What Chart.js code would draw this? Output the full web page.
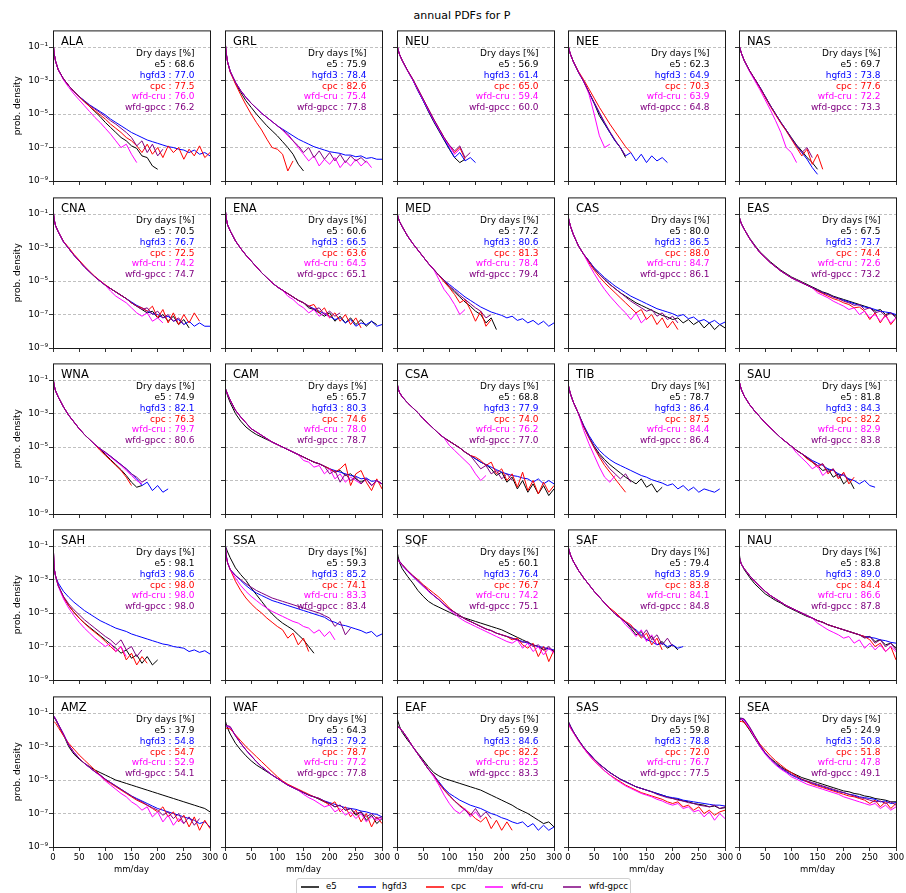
<!DOCTYPE html>
<html><head><meta charset="utf-8">
<script src="https://cdn.jsdelivr.net/npm/chart.js@4/dist/chart.umd.min.js"></script>
<style>
body{margin:0;background:#fff;width:906px;height:893px;position:relative;overflow:hidden;font-family:"DejaVu Sans",sans-serif;color:#000}
canvas{position:absolute;z-index:1}
#title{position:absolute;top:9px;left:462px;transform:translateX(-50%);font-size:11px;white-space:nowrap}
#legend{position:absolute;z-index:5;left:296px;top:878px;width:333px;height:22px;border:1px solid #d0d0d0;border-radius:3px;background:#fff;font-size:8.6px}
#legend svg{position:absolute;top:6px}
#legend .tx{position:absolute;top:2px;white-space:nowrap}
</style></head>
<body>
<div id="title">annual PDFs for P</div>
<div id="legend"></div>
<script>
// x positions (mm/day) of the sampled PDF values
const X = [0,2,5,10,20,30,40,50,60,70,80,90,100,110,120,130,140,150,160,170,180,190,200,210,220,230,240,250,260,270,280,290,300];
// values are log10(probability density)
const ALA_e5 = [-0.6,-1.35,-1.85,-2.35,-2.9,-3.3,-3.65,-3.95,-4.25,-4.55,-4.85,-5.15,-5.5,-5.8,-6.1,-6.4,-6.6,-6.9,-7.05,-7.5,-7.6,-8.1,-8.3];
const ALA_hgfd3 = [-0.6,-1.35,-1.85,-2.35,-2.9,-3.3,-3.65,-3.95,-4.2,-4.45,-4.65,-4.85,-5.05,-5.3,-5.5,-5.7,-5.9,-6.1,-6.25,-6.4,-6.55,-6.65,-6.75,-6.85,-6.95,-7.0,-7.1,-7.15,-7.3,-7.15,-7.4,-7.3,-7.5];
const ALA_cpc = [-0.6,-1.35,-1.85,-2.35,-2.9,-3.3,-3.65,-3.97,-4.27,-4.55,-4.8,-5.05,-5.3,-5.6,-5.85,-6.1,-6.4,-6.6,-6.9,-7.3,-6.8,-7.4,-7.0,-7.6,-6.9,-7.3,-7.0,-7.7,-7.1,-7.5,-6.9,-7.6,-7.3];
const ALA_wfdcru = [-0.6,-1.35,-1.85,-2.35,-2.95,-3.4,-3.8,-4.15,-4.5,-4.85,-5.2,-5.5,-5.85,-6.2,-6.6,-7.0,-6.8,-7.4,-7.9];
const ALA_wfdgpcc = [-0.6,-1.35,-1.85,-2.35,-2.9,-3.3,-3.65,-3.95,-4.22,-4.48,-4.7,-4.92,-5.15,-5.4,-5.6,-5.85,-6.1,-6.4,-6.9,-6.6,-7.3,-6.8,-7.5,-7.1];

const GRL_e5 = [-0.5,-1.3,-1.9,-2.45,-3.15,-3.7,-4.2,-4.6,-5.0,-5.35,-5.7,-6.0,-6.3,-6.65,-7.0,-7.4,-8.0,-8.4];
const GRL_hgfd3 = [-0.5,-1.3,-1.9,-2.45,-3.1,-3.6,-4.0,-4.35,-4.65,-4.95,-5.2,-5.45,-5.7,-5.9,-6.1,-6.3,-6.5,-6.65,-6.8,-6.95,-7.05,-7.15,-7.25,-7.3,-7.35,-7.45,-7.45,-7.55,-7.5,-7.65,-7.6,-7.7,-7.7];
const GRL_cpc = [-0.5,-1.3,-1.9,-2.5,-3.2,-3.85,-4.45,-5.0,-5.5,-5.95,-6.5,-7.0,-7.1,-7.4,-8.4,-7.8];
const GRL_wfdcru = [-0.5,-1.3,-1.9,-2.45,-3.1,-3.6,-4.0,-4.35,-4.65,-4.95,-5.2,-5.45,-5.7,-5.95,-6.3,-6.6,-7.0,-7.4,-7.8,-7.5,-8.1,-7.7,-8.0,-7.6,-8.2,-7.8,-8.1,-7.7,-8.1,-7.8,-8.2];
const GRL_wfdgpcc = [-0.5,-1.3,-1.9,-2.45,-3.1,-3.6,-4.0,-4.35,-4.65,-4.95,-5.2,-5.45,-5.7,-5.95,-6.2,-6.6,-6.9,-7.3,-7.0,-7.6,-7.2,-7.7,-7.3,-7.8,-7.4,-7.9,-7.5,-7.8,-7.6,-7.9];

const NEU_e5 = [-0.85,-1.15,-1.45,-1.8,-2.4,-2.95,-3.6,-4.2,-4.85,-5.45,-6.0,-6.55,-7.1,-7.6,-7.9,-7.7];
const NEU_hgfd3 = [-0.85,-1.15,-1.45,-1.8,-2.4,-2.95,-3.6,-4.2,-4.8,-5.4,-5.95,-6.5,-7.05,-7.6,-7.3,-7.8,-7.6,-7.9];
const NEU_cpc = [-0.85,-1.15,-1.45,-1.8,-2.38,-2.9,-3.5,-4.1,-4.7,-5.3,-5.85,-6.4,-6.9,-7.3,-7.0,-7.7];
const NEU_wfdcru = [-0.85,-1.15,-1.45,-1.8,-2.4,-2.95,-3.55,-4.15,-4.75,-5.35,-5.9,-6.45,-6.9,-7.4,-7.1];
const NEU_wfdgpcc = [-0.85,-1.15,-1.45,-1.8,-2.38,-2.9,-3.5,-4.1,-4.7,-5.3,-5.85,-6.4,-6.85,-7.2,-6.9,-7.6,-7.3];

const NEE_e5 = [-0.85,-1.15,-1.45,-1.85,-2.5,-3.05,-3.7,-4.35,-5.1,-5.6,-6.1,-6.6,-7.0,-7.6];
const NEE_hgfd3 = [-0.85,-1.15,-1.45,-1.85,-2.5,-3.05,-3.7,-4.35,-4.95,-5.55,-6.1,-6.6,-7.0,-7.5,-7.3,-7.8,-7.4,-7.9,-7.5,-7.8,-7.6,-7.9];
const NEE_cpc = [-0.85,-1.15,-1.45,-1.85,-2.45,-2.95,-3.5,-4.05,-4.6,-5.1,-5.6,-6.05,-6.5,-6.95,-7.3];
const NEE_wfdcru = [-0.85,-1.15,-1.45,-1.85,-2.5,-3.05,-3.8,-5.0,-6.3,-7.0,-6.8];
const NEE_wfdgpcc = [-0.85,-1.15,-1.45,-1.85,-2.5,-3.05,-3.7,-4.3,-4.9,-5.5,-6.05,-6.55,-7.0,-7.5];

const NAS_e5 = [-0.85,-1.1,-1.4,-1.8,-2.4,-2.9,-3.4,-3.95,-4.5,-5.0,-5.5,-5.95,-6.4,-6.85,-7.2,-7.6,-7.9,-8.3];
const NAS_hgfd3 = [-0.85,-1.1,-1.4,-1.8,-2.4,-2.9,-3.4,-3.95,-4.5,-5.0,-5.5,-5.95,-6.45,-6.9,-7.3,-7.7,-8.2,-8.6];
const NAS_cpc = [-0.85,-1.1,-1.4,-1.8,-2.4,-2.9,-3.45,-4.0,-4.55,-5.05,-5.55,-6.0,-6.5,-7.0,-7.5,-7.1,-8.0,-7.4,-8.3];
const NAS_wfdcru = [-0.85,-1.1,-1.4,-1.8,-2.45,-3.0,-3.55,-4.15,-4.75,-5.4,-6.1,-7.0,-7.3,-7.9];
const NAS_wfdgpcc = [-0.85,-1.1,-1.4,-1.8,-2.4,-2.9,-3.4,-3.95,-4.5,-5.0,-5.5,-5.95,-6.45,-6.9,-7.3,-7.0,-7.6];

const CNA_e5 = [-0.6,-1.3,-1.7,-2.05,-2.65,-3.05,-3.45,-3.8,-4.15,-4.45,-4.75,-5.0,-5.25,-5.45,-5.65,-5.85,-6.05,-6.3,-6.5,-6.7,-6.9,-6.8,-7.2,-7.0,-7.4,-7.1,-7.6,-7.3,-7.8];
const CNA_hgfd3 = [-0.6,-1.3,-1.7,-2.05,-2.65,-3.05,-3.45,-3.8,-4.15,-4.45,-4.75,-5.0,-5.25,-5.45,-5.65,-5.85,-6.05,-6.25,-6.45,-6.6,-6.8,-6.95,-7.0,-7.2,-7.1,-7.4,-7.3,-7.6,-7.4,-7.7,-7.5,-7.7,-7.7];
const CNA_cpc = [-0.6,-1.3,-1.7,-2.05,-2.62,-3.0,-3.4,-3.75,-4.1,-4.42,-4.72,-4.98,-5.22,-5.45,-5.65,-5.85,-6.05,-6.3,-6.5,-6.6,-6.8,-6.5,-7.2,-6.7,-7.5,-6.9,-7.6,-7.0,-7.5,-6.9,-7.4];
const CNA_wfdcru = [-0.6,-1.3,-1.7,-2.05,-2.65,-3.05,-3.45,-3.8,-4.15,-4.45,-4.75,-5.0,-5.25,-5.6,-5.9,-6.1,-6.3,-6.6,-6.9,-7.1,-6.9,-7.4,-7.2,-7.5];
const CNA_wfdgpcc = [-0.6,-1.3,-1.7,-2.05,-2.65,-3.05,-3.45,-3.8,-4.15,-4.45,-4.75,-5.0,-5.25,-5.45,-5.65,-5.85,-6.05,-6.3,-6.5,-6.7,-6.6,-7.0,-6.8,-7.2,-7.0,-7.4,-7.2,-7.6];

const ENA_e5 = [-0.5,-1.2,-1.65,-2.0,-2.6,-3.05,-3.45,-3.8,-4.15,-4.5,-4.8,-5.1,-5.35,-5.55,-5.75,-5.95,-6.15,-6.3,-6.6,-6.7,-6.9,-7.1,-6.9,-7.4,-7.1,-7.5,-7.2,-7.6,-7.3,-7.7,-7.4,-7.6];
const ENA_hgfd3 = [-0.5,-1.2,-1.65,-2.0,-2.6,-3.05,-3.45,-3.8,-4.15,-4.5,-4.8,-5.1,-5.35,-5.55,-5.75,-5.95,-6.15,-6.3,-6.5,-6.65,-6.8,-6.95,-7.1,-7.3,-7.2,-7.5,-7.3,-7.7,-7.5,-7.6,-7.4,-7.7,-7.6];
const ENA_cpc = [-0.5,-1.2,-1.65,-2.0,-2.6,-3.05,-3.45,-3.8,-4.15,-4.5,-4.8,-5.1,-5.35,-5.55,-5.75,-5.95,-6.15,-6.3,-6.5,-6.4,-6.9,-6.6,-7.2,-6.9,-7.4,-7.0,-7.6,-7.2,-7.8];
const ENA_wfdcru = [-0.5,-1.2,-1.65,-2.0,-2.6,-3.05,-3.45,-3.8,-4.15,-4.5,-4.8,-5.1,-5.35,-5.55,-5.9,-6.1,-6.4,-6.6,-6.9,-6.7,-7.1,-6.9,-7.2];
const ENA_wfdgpcc = [-0.5,-1.2,-1.65,-2.0,-2.6,-3.05,-3.45,-3.8,-4.15,-4.5,-4.8,-5.1,-5.35,-5.55,-5.75,-5.95,-6.15,-6.3,-6.5,-6.7,-6.6,-7.0,-6.8,-7.1,-6.9];

const MED_e5 = [-0.9,-1.2,-1.45,-1.75,-2.3,-2.75,-3.15,-3.55,-3.95,-4.3,-4.65,-4.95,-5.35,-5.65,-5.95,-6.25,-6.5,-6.8,-7.0,-7.5,-7.2,-7.9];
const MED_hgfd3 = [-0.9,-1.2,-1.45,-1.75,-2.3,-2.75,-3.15,-3.55,-3.95,-4.3,-4.65,-4.95,-5.2,-5.45,-5.7,-5.95,-6.15,-6.35,-6.55,-6.7,-6.85,-6.95,-7.05,-7.2,-7.1,-7.35,-7.25,-7.5,-7.35,-7.6,-7.4,-7.7,-7.5];
const MED_cpc = [-0.9,-1.2,-1.45,-1.75,-2.3,-2.75,-3.15,-3.55,-3.95,-4.3,-4.65,-5.05,-5.4,-5.8,-6.3,-6.1,-6.7,-7.4,-6.8,-7.7,-7.3];
const MED_wfdcru = [-0.9,-1.2,-1.45,-1.75,-2.3,-2.75,-3.15,-3.55,-3.95,-4.3,-4.9,-5.5,-5.9,-6.4,-7.0,-6.7];
const MED_wfdgpcc = [-0.9,-1.2,-1.45,-1.75,-2.3,-2.75,-3.15,-3.55,-3.95,-4.3,-4.65,-4.95,-5.3,-5.55,-5.85,-6.1,-6.35,-6.6,-6.8,-7.2,-7.0];

const CAS_e5 = [-1.1,-1.4,-1.75,-2.2,-2.9,-3.4,-3.8,-4.25,-4.6,-4.9,-5.2,-5.45,-5.7,-5.9,-6.1,-6.3,-6.45,-6.6,-6.75,-6.9,-7.05,-7.15,-7.3,-7.2,-7.5,-7.3,-7.6,-7.4,-7.8,-7.5,-7.9,-7.6,-7.8];
const CAS_hgfd3 = [-1.1,-1.4,-1.75,-2.2,-2.9,-3.4,-3.8,-4.2,-4.5,-4.8,-5.05,-5.3,-5.5,-5.7,-5.9,-6.05,-6.2,-6.35,-6.5,-6.65,-6.75,-6.85,-6.95,-7.1,-7.0,-7.25,-7.15,-7.4,-7.3,-7.5,-7.35,-7.6,-7.45];
const CAS_cpc = [-1.1,-1.4,-1.75,-2.2,-2.9,-3.4,-3.9,-4.35,-4.75,-5.1,-5.4,-5.7,-6.0,-6.3,-6.6,-6.9,-6.7,-7.3,-7.0,-7.6,-7.2,-7.8,-7.4,-7.9];
const CAS_wfdcru = [-1.1,-1.4,-1.75,-2.2,-2.9,-3.4,-4.0,-4.55,-5.05,-5.5,-5.9,-6.25,-6.6,-6.9,-7.3,-6.9,-7.5,-7.2];
const CAS_wfdgpcc = [-1.1,-1.4,-1.75,-2.2,-2.9,-3.4,-3.8,-4.25,-4.6,-4.9,-5.2,-5.45,-5.7,-5.95,-6.2,-6.4,-6.6,-6.8,-6.7,-7.1,-6.9,-7.3,-7.1,-7.5];

const EAS_e5 = [-1.1,-1.35,-1.6,-1.9,-2.42,-2.85,-3.25,-3.55,-3.85,-4.1,-4.35,-4.55,-4.75,-4.9,-5.05,-5.2,-5.35,-5.5,-5.65,-5.75,-5.9,-6.0,-6.1,-6.2,-6.3,-6.4,-6.5,-6.6,-6.8,-6.7,-7.0,-6.9,-7.1];
const EAS_hgfd3 = [-1.1,-1.35,-1.6,-1.9,-2.45,-2.9,-3.3,-3.6,-3.9,-4.15,-4.4,-4.6,-4.8,-4.95,-5.1,-5.25,-5.4,-5.55,-5.7,-5.8,-5.95,-6.05,-6.15,-6.25,-6.35,-6.45,-6.55,-6.6,-6.7,-6.8,-6.85,-6.9,-7.0];
const EAS_cpc = [-1.1,-1.35,-1.6,-1.9,-2.45,-2.9,-3.3,-3.6,-3.9,-4.15,-4.4,-4.6,-4.8,-4.95,-5.1,-5.25,-5.4,-5.6,-5.75,-5.9,-6.05,-6.15,-6.3,-6.4,-6.6,-6.55,-6.8,-7.3,-6.9,-7.5,-7.0,-7.6,-7.2];
const EAS_wfdcru = [-1.1,-1.35,-1.6,-1.9,-2.45,-2.9,-3.3,-3.6,-3.9,-4.15,-4.4,-4.6,-4.8,-4.95,-5.1,-5.25,-5.4,-5.7,-5.85,-6.0,-6.2,-6.35,-6.5,-6.7,-6.6,-7.0,-6.8,-7.2,-7.0,-7.4,-7.1,-7.5,-7.2];
const EAS_wfdgpcc = [-1.1,-1.35,-1.6,-1.9,-2.45,-2.9,-3.3,-3.6,-3.9,-4.15,-4.4,-4.6,-4.8,-4.95,-5.1,-5.25,-5.4,-5.55,-5.7,-5.8,-5.95,-6.05,-6.2,-6.3,-6.45,-6.4,-6.7,-6.6,-6.9,-6.8,-7.1,-6.9,-7.2];

const WNA_e5 = [-0.8,-1.3,-1.65,-2.0,-2.6,-3.1,-3.5,-3.9,-4.25,-4.55,-4.85,-5.1,-5.45,-5.75,-6.05,-6.35,-6.7,-7.1,-7.4,-7.3];
const WNA_hgfd3 = [-0.8,-1.3,-1.65,-2.0,-2.6,-3.1,-3.5,-3.9,-4.25,-4.55,-4.85,-5.1,-5.35,-5.55,-5.8,-6.05,-6.3,-6.6,-6.9,-7.3,-7.1,-7.6,-7.3,-7.7,-7.5];
const WNA_cpc = [-0.8,-1.3,-1.65,-2.0,-2.6,-3.1,-3.5,-3.9,-4.25,-4.55,-4.85,-5.2,-5.5,-5.8,-6.1,-6.4,-6.8,-7.3];
const WNA_wfdcru = [-0.8,-1.3,-1.65,-2.0,-2.6,-3.1,-3.5,-3.9,-4.25,-4.55,-4.85,-5.1,-5.35,-5.6,-5.85,-6.1,-6.4,-6.7,-7.0,-7.2];
const WNA_wfdgpcc = [-0.8,-1.3,-1.65,-2.0,-2.6,-3.1,-3.5,-3.9,-4.25,-4.55,-4.85,-5.1,-5.3,-5.55,-5.8,-6.05,-6.3,-6.6,-6.8,-7.1,-6.9];

const CAM_e5 = [-1.4,-1.6,-1.95,-2.35,-3.0,-3.45,-3.8,-4.05,-4.25,-4.4,-4.55,-4.7,-4.85,-5.0,-5.15,-5.3,-5.45,-5.6,-5.75,-5.9,-6.0,-6.15,-6.3,-6.5,-6.4,-6.7,-6.6,-6.9,-7.1,-6.9,-7.3,-7.0,-7.2];
const CAM_hgfd3 = [-1.5,-1.6,-1.85,-2.2,-2.8,-3.2,-3.55,-3.9,-4.1,-4.3,-4.5,-4.7,-4.85,-5.0,-5.15,-5.3,-5.45,-5.6,-5.75,-5.9,-6.0,-6.15,-6.3,-6.4,-6.5,-6.6,-6.7,-6.75,-6.9,-6.85,-7.05,-7.0,-7.2];
const CAM_cpc = [-1.5,-1.6,-1.85,-2.2,-2.8,-3.2,-3.55,-3.9,-4.1,-4.3,-4.5,-4.7,-4.85,-5.0,-5.15,-5.3,-5.45,-5.6,-5.75,-5.9,-6.0,-6.15,-6.3,-6.5,-6.3,-6.0,-7.3,-6.6,-6.4,-7.1,-7.6,-6.9,-7.5];
const CAM_wfdcru = [-1.5,-1.6,-1.85,-2.2,-2.8,-3.2,-3.55,-3.9,-4.1,-4.3,-4.5,-4.7,-4.85,-5.0,-5.15,-5.3,-5.45,-5.8,-5.9,-6.2,-6.1,-6.6,-6.3,-6.9,-6.6,-7.1,-6.8,-7.0,-7.2,-6.9,-7.3,-7.0,-7.2];
const CAM_wfdgpcc = [-1.5,-1.6,-1.85,-2.2,-2.8,-3.2,-3.55,-3.9,-4.1,-4.3,-4.5,-4.7,-4.85,-5.0,-5.15,-5.3,-5.45,-5.6,-5.75,-5.9,-6.0,-6.15,-6.6,-6.4,-7.1,-6.6,-7.0,-6.8,-7.2,-6.9,-7.3,-7.0,-7.2];

const CSA_e5 = [-1.1,-1.5,-1.75,-2.0,-2.35,-2.65,-2.95,-3.3,-3.6,-3.9,-4.2,-4.45,-4.65,-4.85,-5.05,-5.3,-5.5,-5.7,-5.9,-6.05,-6.3,-6.7,-6.5,-7.1,-6.8,-7.5,-7.0,-7.7,-7.2,-7.8,-7.3,-7.9,-7.5];
const CSA_hgfd3 = [-1.1,-1.5,-1.75,-2.0,-2.35,-2.65,-2.95,-3.3,-3.6,-3.9,-4.2,-4.45,-4.65,-4.85,-5.05,-5.3,-5.5,-5.7,-5.9,-6.05,-6.2,-6.35,-6.5,-6.6,-6.7,-6.75,-6.85,-6.9,-7.1,-6.9,-7.2,-7.0,-7.2];
const CSA_cpc = [-1.1,-1.5,-1.75,-2.0,-2.35,-2.65,-2.95,-3.3,-3.6,-3.9,-4.2,-4.45,-4.65,-4.85,-5.05,-5.3,-5.5,-5.6,-5.8,-6.1,-5.9,-6.6,-6.3,-7.0,-6.6,-7.4,-6.5,-7.6,-7.0,-7.8,-7.1,-7.7,-7.3];
const CSA_wfdcru = [-1.1,-1.5,-1.75,-2.0,-2.35,-2.65,-2.95,-3.3,-3.6,-3.9,-4.2,-4.45,-4.9,-5.2,-5.5,-5.8,-6.1,-6.6,-7.0,-6.7];
const CSA_wfdgpcc = [-1.1,-1.5,-1.75,-2.0,-2.35,-2.65,-2.95,-3.3,-3.6,-3.9,-4.2,-4.45,-4.65,-4.85,-5.05,-5.3,-5.5,-5.9,-6.3,-6.1,-6.6,-6.4,-6.9,-6.6,-7.0];

const TIB_e5 = [-1.2,-1.5,-1.85,-2.3,-3.0,-3.75,-4.4,-4.95,-5.4,-5.75,-6.05,-6.3,-6.55,-6.8,-7.0,-7.2,-6.9,-7.4,-7.2,-7.7,-7.4];
const TIB_hgfd3 = [-1.2,-1.5,-1.85,-2.3,-3.0,-3.7,-4.3,-4.8,-5.2,-5.5,-5.75,-5.95,-6.1,-6.25,-6.4,-6.55,-6.7,-6.8,-6.95,-7.05,-7.15,-7.3,-7.2,-7.5,-7.3,-7.6,-7.4,-7.7,-7.5,-7.6,-7.7,-7.5];
const TIB_cpc = [-1.2,-1.5,-1.85,-2.3,-3.0,-3.8,-4.45,-5.05,-5.6,-6.1,-6.5,-6.9,-7.3,-7.7];
const TIB_wfdcru = [-1.2,-1.5,-1.85,-2.3,-3.0,-4.0,-4.8,-5.5,-6.2,-6.8,-7.1,-6.7];
const TIB_wfdgpcc = [-1.2,-1.5,-1.85,-2.3,-3.0,-3.75,-4.4,-5.0,-5.5,-5.9,-6.3,-6.6,-6.9,-6.6,-7.1];

const SAU_e5 = [-1.0,-1.3,-1.6,-1.95,-2.45,-2.85,-3.2,-3.55,-3.85,-4.15,-4.45,-4.7,-4.95,-5.2,-5.4,-5.65,-5.9,-6.1,-6.4,-6.3,-6.8,-6.6,-7.2,-6.9,-7.5];
const SAU_hgfd3 = [-1.0,-1.3,-1.6,-1.95,-2.45,-2.85,-3.2,-3.55,-3.85,-4.15,-4.45,-4.7,-4.95,-5.2,-5.4,-5.6,-5.8,-5.95,-6.1,-6.3,-6.4,-6.6,-6.7,-6.9,-7.0,-7.2,-7.0,-7.3,-7.4];
const SAU_cpc = [-1.0,-1.3,-1.6,-1.95,-2.45,-2.85,-3.2,-3.55,-3.85,-4.15,-4.45,-4.7,-4.95,-5.2,-5.4,-5.7,-5.9,-6.2,-6.0,-6.6,-6.3,-6.9,-6.5,-7.2,-6.8];
const SAU_wfdcru = [-1.0,-1.3,-1.6,-1.95,-2.45,-2.85,-3.2,-3.55,-3.85,-4.15,-4.45,-4.7,-4.95,-5.35,-5.65,-5.95,-6.3,-6.1,-6.7,-6.4];
const SAU_wfdgpcc = [-1.0,-1.3,-1.6,-1.95,-2.45,-2.85,-3.2,-3.55,-3.85,-4.15,-4.45,-4.7,-4.95,-5.2,-5.4,-5.6,-5.85,-6.1,-6.0,-6.5,-6.3,-6.8,-6.6,-7.0];

const SAH_e5 = [-0.5,-2.3,-2.8,-3.35,-4.05,-4.55,-4.95,-5.3,-5.6,-5.85,-6.1,-6.35,-6.6,-6.85,-7.1,-7.4,-7.2,-7.7,-7.5,-8.0,-7.6,-8.1,-7.8];
const SAH_hgfd3 = [-0.5,-2.3,-2.8,-3.2,-3.7,-4.05,-4.35,-4.6,-4.85,-5.05,-5.25,-5.45,-5.6,-5.75,-5.9,-6.0,-6.1,-6.25,-6.35,-6.45,-6.55,-6.65,-6.75,-6.85,-6.9,-7.0,-7.05,-7.1,-7.3,-7.2,-7.35,-7.25,-7.45];
const SAH_cpc = [-0.5,-2.3,-2.8,-3.35,-4.05,-4.55,-4.95,-5.3,-5.6,-5.9,-6.15,-6.4,-6.7,-7.0,-7.3,-7.0,-7.8,-7.4,-8.1,-7.6,-8.0];
const SAH_wfdcru = [-0.5,-2.3,-2.8,-3.4,-4.15,-4.7,-5.15,-5.55,-5.9,-6.2,-6.5,-6.75,-7.0,-6.8,-7.3,-7.0,-7.6];
const SAH_wfdgpcc = [-0.5,-2.3,-2.8,-3.35,-4.0,-4.45,-4.8,-5.1,-5.4,-5.65,-5.9,-6.15,-6.4,-6.6,-6.9,-6.6,-7.2,-7.0,-7.6,-7.2];

const SSA_e5 = [-0.9,-1.1,-1.35,-1.7,-2.3,-2.7,-3.05,-3.5,-3.9,-4.3,-4.7,-5.05,-5.35,-5.6,-5.8,-6.0,-6.3,-6.6,-7.0,-7.4];
const SSA_hgfd3 = [-0.5,-1.5,-2.0,-2.4,-2.75,-3.05,-3.35,-3.6,-3.8,-3.95,-4.1,-4.25,-4.35,-4.45,-4.55,-4.65,-4.75,-4.85,-4.95,-5.05,-5.15,-5.25,-5.45,-5.55,-5.7,-5.75,-5.85,-5.95,-6.05,-6.2,-6.1,-6.4,-6.25];
const SSA_cpc = [-0.6,-1.6,-2.0,-2.4,-3.1,-3.65,-4.1,-4.45,-4.75,-5.0,-5.3,-5.55,-5.8,-6.0,-6.5,-6.2,-6.9,-6.5,-7.3];
const SSA_wfdcru = [-0.5,-1.5,-2.0,-2.4,-2.9,-3.35,-3.7,-4.0,-4.25,-4.5,-4.7,-4.9,-5.05,-5.2,-5.35,-5.5,-5.6,-5.8,-5.9,-6.2,-6.0,-6.4,-6.1,-6.6];
const SSA_wfdgpcc = [-0.5,-1.5,-2.0,-2.4,-2.75,-3.0,-3.25,-3.45,-3.65,-3.8,-3.95,-4.1,-4.2,-4.3,-4.4,-4.5,-4.6,-4.7,-4.8,-4.9,-5.0,-5.15,-5.3,-5.8,-5.5,-6.3,-5.9];

const SQF_e5 = [-1.3,-1.6,-2.0,-2.35,-2.8,-3.2,-3.65,-4.0,-4.3,-4.5,-4.65,-4.8,-4.95,-5.1,-5.2,-5.3,-5.4,-5.5,-5.6,-5.7,-5.8,-5.9,-6.0,-6.15,-6.3,-6.45,-6.6,-6.75,-6.9,-7.0,-7.2,-7.1,-7.3];
const SQF_hgfd3 = [-1.7,-1.8,-1.95,-2.15,-2.5,-2.8,-3.1,-3.4,-3.7,-3.95,-4.2,-4.5,-4.75,-4.95,-5.15,-5.35,-5.5,-5.65,-5.8,-5.95,-6.05,-6.2,-6.3,-6.4,-6.5,-6.6,-6.7,-6.8,-6.9,-7.0,-7.05,-7.15,-7.2];
const SQF_cpc = [-1.8,-1.85,-1.95,-2.1,-2.45,-2.75,-3.0,-3.3,-3.55,-3.8,-4.05,-4.35,-4.7,-4.95,-5.15,-5.35,-5.5,-5.65,-5.8,-5.95,-6.05,-6.2,-6.3,-6.4,-6.6,-6.5,-6.9,-7.1,-6.8,-7.6,-7.0,-7.9,-7.2];
const SQF_wfdcru = [-1.7,-1.8,-1.95,-2.15,-2.5,-2.8,-3.1,-3.4,-3.7,-3.95,-4.2,-4.5,-4.8,-5.05,-5.3,-5.5,-5.65,-5.8,-5.95,-6.1,-6.25,-6.4,-6.55,-6.7,-6.8,-6.6,-7.1,-6.8,-7.3,-7.0,-7.5,-7.1,-7.4];
const SQF_wfdgpcc = [-1.6,-1.75,-1.9,-2.1,-2.45,-2.75,-3.05,-3.35,-3.65,-3.95,-4.2,-4.5,-4.75,-4.95,-5.15,-5.35,-5.5,-5.65,-5.8,-5.95,-6.05,-6.2,-6.3,-6.4,-6.5,-6.6,-6.75,-6.7,-7.0,-6.9,-7.2,-7.0,-7.3];

const SAF_e5 = [-1.0,-1.25,-1.55,-1.9,-2.45,-2.9,-3.3,-3.7,-4.05,-4.4,-4.75,-5.05,-5.3,-5.55,-5.9,-6.3,-6.1,-6.6,-6.4,-6.9,-6.7,-7.1,-6.9,-7.2];
const SAF_hgfd3 = [-1.0,-1.25,-1.55,-1.9,-2.45,-2.9,-3.3,-3.7,-4.05,-4.4,-4.75,-5.05,-5.3,-5.55,-5.8,-6.0,-6.3,-6.6,-6.7,-6.9,-6.8,-7.0,-6.9,-7.1,-7.0];
const SAF_cpc = [-1.0,-1.25,-1.55,-1.9,-2.45,-2.9,-3.3,-3.7,-4.05,-4.4,-4.7,-4.95,-5.25,-5.5,-5.7,-6.1,-6.5,-6.2,-6.9,-6.5,-7.2];
const SAF_wfdcru = [-1.0,-1.25,-1.55,-1.9,-2.45,-2.9,-3.3,-3.7,-4.05,-4.4,-4.75,-5.05,-5.3,-5.7,-6.0,-6.4,-6.0,-6.7,-6.3,-6.9];
const SAF_wfdgpcc = [-1.0,-1.25,-1.55,-1.9,-2.45,-2.9,-3.3,-3.7,-4.05,-4.4,-4.75,-5.05,-5.3,-5.55,-5.8,-6.1,-6.4,-6.0,-6.6,-6.3,-6.9,-6.5,-7.0];

const NAU_e5 = [-1.3,-1.8,-2.1,-2.4,-2.85,-3.25,-3.55,-3.85,-4.05,-4.25,-4.4,-4.6,-4.75,-4.9,-5.05,-5.2,-5.3,-5.45,-5.55,-5.7,-5.8,-5.9,-6.0,-6.1,-6.2,-6.3,-6.45,-6.4,-6.7,-6.6,-6.9,-6.8,-7.1];
const NAU_hgfd3 = [-1.5,-1.9,-2.1,-2.35,-2.75,-3.1,-3.4,-3.7,-3.95,-4.15,-4.35,-4.55,-4.7,-4.85,-5.0,-5.15,-5.3,-5.45,-5.55,-5.7,-5.8,-5.9,-6.0,-6.1,-6.2,-6.3,-6.4,-6.45,-6.5,-6.6,-6.65,-6.75,-6.8];
const NAU_cpc = [-1.5,-1.9,-2.1,-2.35,-2.75,-3.1,-3.4,-3.7,-3.95,-4.15,-4.35,-4.55,-4.7,-4.85,-5.0,-5.15,-5.3,-5.45,-5.55,-5.7,-5.8,-5.9,-6.0,-6.1,-6.2,-6.3,-6.4,-6.6,-7.0,-6.8,-7.3,-7.0,-7.8];
const NAU_wfdcru = [-1.5,-1.9,-2.1,-2.35,-2.75,-3.1,-3.4,-3.7,-3.95,-4.15,-4.35,-4.55,-4.7,-4.85,-5.0,-5.15,-5.3,-5.6,-5.8,-6.0,-6.15,-6.3,-6.5,-6.4,-6.8,-6.6,-7.1,-6.8,-7.2,-6.9,-7.3,-7.0,-7.3];
const NAU_wfdgpcc = [-1.5,-1.9,-2.1,-2.35,-2.75,-3.1,-3.4,-3.7,-3.95,-4.15,-4.35,-4.55,-4.7,-4.85,-5.0,-5.15,-5.3,-5.45,-5.55,-5.7,-5.8,-5.9,-6.0,-6.1,-6.2,-6.3,-6.5,-6.4,-6.8,-6.6,-7.0,-6.8,-7.2];

const AMZ_e5 = [-1.2,-1.25,-1.4,-1.7,-2.3,-3.0,-3.45,-3.75,-4.0,-4.2,-4.4,-4.55,-4.7,-4.85,-5.0,-5.1,-5.2,-5.3,-5.4,-5.5,-5.6,-5.7,-5.8,-5.9,-6.0,-6.1,-6.2,-6.3,-6.4,-6.5,-6.6,-6.7,-6.9];
const AMZ_hgfd3 = [-1.3,-1.2,-1.35,-1.65,-2.25,-2.9,-3.35,-3.7,-4.0,-4.25,-4.5,-4.7,-4.95,-5.15,-5.35,-5.55,-5.75,-5.95,-6.1,-6.25,-6.4,-6.55,-6.7,-6.8,-6.9,-7.0,-7.1,-7.2,-7.3,-7.4,-7.6,-7.5,-7.8];
const AMZ_cpc = [-1.5,-1.5,-1.6,-1.85,-2.35,-2.8,-3.15,-3.5,-3.8,-4.1,-4.4,-4.7,-5.0,-5.2,-5.4,-5.6,-5.8,-6.0,-6.2,-6.35,-6.5,-6.7,-6.9,-6.6,-7.2,-6.9,-7.5,-7.1,-7.8,-7.2,-8.0,-7.4,-7.9];
const AMZ_wfdcru = [-1.3,-1.2,-1.35,-1.65,-2.25,-2.9,-3.35,-3.7,-4.0,-4.25,-4.5,-4.75,-5.05,-5.3,-5.55,-5.8,-6.0,-6.3,-6.5,-6.8,-6.6,-7.2,-6.9,-7.5,-7.1,-7.7,-7.3,-7.6];
const AMZ_wfdgpcc = [-1.3,-1.2,-1.35,-1.65,-2.25,-2.9,-3.35,-3.7,-4.0,-4.25,-4.5,-4.7,-4.95,-5.15,-5.35,-5.55,-5.75,-5.95,-6.15,-6.3,-6.5,-6.65,-6.8,-7.1,-6.9,-7.3,-7.0,-7.6,-7.2,-7.7,-7.3];

const WAF_e5 = [-1.4,-1.6,-1.9,-2.25,-2.8,-3.2,-3.55,-3.85,-4.1,-4.3,-4.5,-4.7,-4.9,-5.1,-5.3,-5.45,-5.6,-5.75,-5.9,-6.0,-6.15,-6.3,-6.4,-6.6,-6.5,-6.8,-6.7,-7.1,-6.9,-7.4,-7.1,-7.6,-7.3];
const WAF_hgfd3 = [-1.8,-1.75,-1.8,-1.85,-2.35,-2.8,-3.2,-3.55,-3.9,-4.2,-4.45,-4.7,-4.9,-5.1,-5.3,-5.45,-5.6,-5.75,-5.9,-6.0,-6.1,-6.25,-6.35,-6.45,-6.55,-6.65,-6.7,-6.75,-6.85,-6.9,-7.0,-7.05,-7.2];
const WAF_cpc = [-1.9,-1.9,-1.9,-1.95,-2.3,-2.65,-3.0,-3.3,-3.6,-3.9,-4.2,-4.5,-4.8,-5.05,-5.25,-5.4,-5.55,-5.7,-5.85,-6.0,-6.1,-6.3,-6.5,-6.3,-6.9,-6.6,-7.2,-6.8,-7.5,-7.0,-7.8,-7.2,-7.6];
const WAF_wfdcru = [-1.8,-1.75,-1.8,-1.85,-2.35,-2.8,-3.2,-3.55,-3.9,-4.2,-4.45,-4.7,-4.9,-5.1,-5.3,-5.45,-5.6,-5.85,-6.05,-6.2,-6.4,-6.6,-6.5,-6.9,-6.7,-7.1,-6.9,-7.3,-7.0,-7.5,-7.2,-7.4,-7.3];
const WAF_wfdgpcc = [-1.7,-1.7,-1.75,-1.8,-2.35,-2.8,-3.2,-3.55,-3.9,-4.2,-4.45,-4.7,-4.9,-5.1,-5.3,-5.45,-5.6,-5.75,-5.9,-6.0,-6.1,-6.25,-6.4,-6.6,-6.5,-6.8,-6.7,-7.0,-6.9,-7.2,-7.0,-7.3,-7.2];

const EAF_e5 = [-1.3,-1.5,-1.8,-2.15,-2.6,-3.0,-3.4,-3.8,-4.2,-4.55,-4.75,-4.9,-5.0,-5.1,-5.2,-5.3,-5.4,-5.5,-5.6,-5.75,-5.9,-6.05,-6.2,-6.35,-6.5,-6.7,-6.85,-7.0,-7.2,-7.4,-7.6,-7.5,-7.8];
const EAF_hgfd3 = [-1.9,-1.8,-1.9,-2.05,-2.5,-3.0,-3.45,-3.9,-4.35,-4.7,-5.1,-5.5,-5.8,-6.0,-6.2,-6.35,-6.5,-6.6,-6.7,-6.85,-7.0,-7.1,-7.25,-7.35,-7.5,-7.6,-7.5,-7.8,-7.6,-8.0,-7.7,-8.0,-7.8];
const EAF_cpc = [-1.9,-1.8,-1.9,-2.05,-2.5,-3.0,-3.45,-3.9,-4.35,-4.7,-5.2,-5.6,-5.95,-6.25,-6.5,-6.75,-7.0,-7.3,-7.5,-7.2,-7.9,-7.4,-8.0,-7.5,-8.0];
const EAF_wfdcru = [-1.9,-1.8,-1.9,-2.05,-2.5,-3.0,-3.45,-3.9,-4.35,-4.8,-5.3,-5.9,-6.4,-6.8,-7.0,-6.7,-7.2,-6.9,-7.3];
const EAF_wfdgpcc = [-1.9,-1.8,-1.9,-2.05,-2.5,-3.0,-3.45,-3.9,-4.35,-4.7,-5.15,-5.55,-5.9,-6.25,-6.55,-6.8,-7.1,-6.7,-7.2,-6.9,-7.3];

const SAS_e5 = [-1.4,-1.6,-1.8,-2.1,-2.6,-3.05,-3.4,-3.75,-4.05,-4.3,-4.55,-4.75,-4.95,-5.1,-5.25,-5.4,-5.5,-5.6,-5.7,-5.8,-5.9,-6.0,-6.1,-6.15,-6.25,-6.3,-6.4,-6.45,-6.5,-6.6,-6.55,-6.7,-6.65];
const SAS_hgfd3 = [-1.5,-1.6,-1.8,-2.1,-2.6,-3.05,-3.4,-3.75,-4.05,-4.3,-4.55,-4.75,-4.95,-5.1,-5.25,-5.4,-5.5,-5.6,-5.7,-5.8,-5.9,-6.0,-6.05,-6.1,-6.2,-6.25,-6.3,-6.35,-6.4,-6.45,-6.5,-6.5,-6.55];
const SAS_cpc = [-1.5,-1.7,-1.9,-2.15,-2.65,-3.1,-3.5,-3.85,-4.15,-4.45,-4.7,-4.9,-5.1,-5.3,-5.45,-5.6,-5.75,-5.85,-5.95,-6.05,-6.15,-6.3,-6.4,-6.3,-6.6,-6.5,-6.8,-6.6,-7.0,-6.8,-7.1,-6.9,-6.8];
const SAS_wfdcru = [-1.5,-1.7,-1.9,-2.15,-2.65,-3.1,-3.5,-3.85,-4.15,-4.45,-4.7,-4.95,-5.15,-5.35,-5.5,-5.65,-5.8,-5.9,-6.0,-6.15,-6.25,-6.4,-6.5,-6.4,-6.7,-6.6,-6.9,-6.8,-7.2,-6.9,-7.4,-7.0,-7.3];
const SAS_wfdgpcc = [-1.5,-1.6,-1.8,-2.1,-2.6,-3.05,-3.4,-3.75,-4.05,-4.3,-4.55,-4.75,-4.95,-5.1,-5.25,-5.4,-5.5,-5.6,-5.7,-5.85,-5.95,-6.05,-6.1,-6.2,-6.25,-6.35,-6.4,-6.5,-6.55,-6.6,-6.5,-6.7,-6.6];

const SEA_e5 = [-1.1,-1.3,-1.4,-1.55,-2.0,-2.5,-3.0,-3.4,-3.7,-3.95,-4.2,-4.4,-4.55,-4.7,-4.85,-4.95,-5.05,-5.15,-5.25,-5.35,-5.45,-5.55,-5.65,-5.7,-5.8,-5.85,-5.95,-6.0,-6.1,-6.15,-6.2,-6.3,-6.3];
const SEA_hgfd3 = [-1.5,-1.4,-1.3,-1.4,-1.85,-2.4,-2.95,-3.4,-3.75,-4.05,-4.3,-4.5,-4.7,-4.85,-5.0,-5.1,-5.2,-5.3,-5.4,-5.5,-5.6,-5.7,-5.75,-5.85,-5.9,-6.0,-6.05,-6.1,-6.15,-6.3,-6.25,-6.4,-6.35];
const SEA_cpc = [-1.5,-1.5,-1.5,-1.55,-1.95,-2.4,-2.85,-3.2,-3.55,-3.85,-4.1,-4.35,-4.55,-4.75,-4.95,-5.1,-5.25,-5.35,-5.45,-5.55,-5.65,-5.75,-5.85,-5.95,-6.0,-6.1,-6.2,-6.4,-6.2,-6.6,-6.3,-6.7,-6.4];
const SEA_wfdcru = [-1.5,-1.45,-1.35,-1.45,-1.9,-2.45,-3.0,-3.45,-3.8,-4.1,-4.35,-4.55,-4.8,-4.95,-5.1,-5.25,-5.35,-5.45,-5.55,-5.65,-5.75,-5.85,-6.0,-6.1,-6.2,-6.3,-6.4,-6.5,-6.4,-6.7,-6.5,-6.8,-6.6];
const SEA_wfdgpcc = [-1.5,-1.4,-1.3,-1.35,-1.8,-2.35,-2.9,-3.35,-3.7,-4.0,-4.25,-4.45,-4.65,-4.8,-4.95,-5.05,-5.15,-5.25,-5.35,-5.45,-5.55,-5.65,-5.75,-5.85,-5.95,-6.05,-6.1,-6.2,-6.3,-6.25,-6.4,-6.3,-6.5];

const REGIONS = ['ALA','GRL','NEU','NEE','NAS','CNA','ENA','MED','CAS','EAS','WNA','CAM','CSA','TIB','SAU','SAH','SSA','SQF','SAF','NAU','AMZ','WAF','EAF','SAS','SEA'];
const SERIES = ['e5','hgfd3','cpc','wfd-cru','wfd-gpcc'];
const COLORS = ['#000000','#0000ff','#ff0000','#ff00ff','#800080'];
// dry days [%] per region, one array per dataset
const dry_e5 = [68.6,75.9,56.9,62.3,69.7,70.5,60.6,77.2,80.0,67.5,74.9,65.7,68.8,78.7,81.8,98.1,59.3,60.1,79.4,83.8,37.9,64.3,69.9,59.8,24.9];
const dry_hgfd3 = [77.0,78.4,61.4,64.9,73.8,76.7,66.5,80.6,86.5,73.7,82.1,80.3,77.9,86.4,84.3,98.6,85.2,76.4,85.9,89.0,54.8,79.2,84.6,78.8,50.8];
const dry_cpc = [77.5,82.6,65.0,70.3,77.6,72.5,63.6,81.3,88.0,74.4,76.3,74.6,74.0,87.5,82.2,98.0,74.1,76.7,83.8,84.4,54.7,78.7,82.2,72.0,51.8];
const dry_wfdcru = [76.0,75.4,59.4,63.9,72.2,74.2,64.5,78.4,84.7,72.6,79.7,78.0,76.2,84.4,82.9,98.0,83.3,74.2,84.1,86.6,52.9,77.2,82.5,76.7,47.8];
const dry_wfdgpcc = [76.2,77.8,60.0,64.8,73.3,74.7,65.1,79.4,86.1,73.2,80.6,78.7,77.0,86.4,83.8,98.0,83.4,75.1,84.8,87.8,54.1,77.8,83.3,77.5,49.1];
const Y_TICKS = [1e-9,1e-7,1e-5,1e-3,1e-1];
const X_TICKS_LABEL = [0,50,100,150,200,250,300];

const PDF = {
  ALA:[ALA_e5,ALA_hgfd3,ALA_cpc,ALA_wfdcru,ALA_wfdgpcc], GRL:[GRL_e5,GRL_hgfd3,GRL_cpc,GRL_wfdcru,GRL_wfdgpcc],
  NEU:[NEU_e5,NEU_hgfd3,NEU_cpc,NEU_wfdcru,NEU_wfdgpcc], NEE:[NEE_e5,NEE_hgfd3,NEE_cpc,NEE_wfdcru,NEE_wfdgpcc],
  NAS:[NAS_e5,NAS_hgfd3,NAS_cpc,NAS_wfdcru,NAS_wfdgpcc], CNA:[CNA_e5,CNA_hgfd3,CNA_cpc,CNA_wfdcru,CNA_wfdgpcc],
  ENA:[ENA_e5,ENA_hgfd3,ENA_cpc,ENA_wfdcru,ENA_wfdgpcc], MED:[MED_e5,MED_hgfd3,MED_cpc,MED_wfdcru,MED_wfdgpcc],
  CAS:[CAS_e5,CAS_hgfd3,CAS_cpc,CAS_wfdcru,CAS_wfdgpcc], EAS:[EAS_e5,EAS_hgfd3,EAS_cpc,EAS_wfdcru,EAS_wfdgpcc],
  WNA:[WNA_e5,WNA_hgfd3,WNA_cpc,WNA_wfdcru,WNA_wfdgpcc], CAM:[CAM_e5,CAM_hgfd3,CAM_cpc,CAM_wfdcru,CAM_wfdgpcc],
  CSA:[CSA_e5,CSA_hgfd3,CSA_cpc,CSA_wfdcru,CSA_wfdgpcc], TIB:[TIB_e5,TIB_hgfd3,TIB_cpc,TIB_wfdcru,TIB_wfdgpcc],
  SAU:[SAU_e5,SAU_hgfd3,SAU_cpc,SAU_wfdcru,SAU_wfdgpcc], SAH:[SAH_e5,SAH_hgfd3,SAH_cpc,SAH_wfdcru,SAH_wfdgpcc],
  SSA:[SSA_e5,SSA_hgfd3,SSA_cpc,SSA_wfdcru,SSA_wfdgpcc], SQF:[SQF_e5,SQF_hgfd3,SQF_cpc,SQF_wfdcru,SQF_wfdgpcc],
  SAF:[SAF_e5,SAF_hgfd3,SAF_cpc,SAF_wfdcru,SAF_wfdgpcc], NAU:[NAU_e5,NAU_hgfd3,NAU_cpc,NAU_wfdcru,NAU_wfdgpcc],
  AMZ:[AMZ_e5,AMZ_hgfd3,AMZ_cpc,AMZ_wfdcru,AMZ_wfdgpcc], WAF:[WAF_e5,WAF_hgfd3,WAF_cpc,WAF_wfdcru,WAF_wfdgpcc],
  EAF:[EAF_e5,EAF_hgfd3,EAF_cpc,EAF_wfdcru,EAF_wfdgpcc], SAS:[SAS_e5,SAS_hgfd3,SAS_cpc,SAS_wfdcru,SAS_wfdgpcc],
  SEA:[SEA_e5,SEA_hgfd3,SEA_cpc,SEA_wfdcru,SEA_wfdgpcc]
};
const DRY = [dry_e5,dry_hgfd3,dry_cpc,dry_wfdcru,dry_wfdgpcc];

// layout
const COL_LEFT = [53,225,397,568,739], ROW_TOP = [30,197,363,529,696];
const PW = 157, PH = 151, AX_W = 50, AX_H = 40, PAD_T = 6, PAD_R = 12;
const FONT = '"DejaVu Sans", sans-serif';
Chart.defaults.font.family = FONT;
Chart.defaults.color = '#000';

const SUPS = {'-1':'\u207B\u00B9','-3':'\u207B\u00B3','-5':'\u207B\u2075','-7':'\u207B\u2077','-9':'\u207B\u2079'};
function expLabel(v){ const e = Math.round(Math.log10(v)); return '10' + SUPS[String(e)]; }

const deco = {
  id: 'deco',
  afterDraw(chart, args, o) {
    const {ctx, chartArea: a} = chart;
    ctx.save();
    ctx.textBaseline = 'middle';
    ctx.fillStyle = '#000';
    ctx.font = '11.5px ' + FONT;
    ctx.textAlign = 'left';
    ctx.fillText(o.name, a.left + 8, a.top + 11.5);
    ctx.font = '9px ' + FONT;
    ctx.textAlign = 'right';
    const tx = a.right - 15.5;
    ctx.fillText('Dry days [%]', tx, a.top + 23.5);
    SERIES.forEach((s, i) => {
      ctx.fillStyle = COLORS[i];
      ctx.fillText(s + ' : ' + DRY[i][o.k].toFixed(1), tx, a.top + 23.5 + 10.8 * (i + 1));
    });
    ctx.strokeStyle = '#1a1a1a';
    ctx.lineWidth = 1;
    ctx.strokeRect(a.left + 0.5, a.top + 0.5, a.right - a.left, a.bottom - a.top);
    ctx.restore();
  }
};

REGIONS.forEach((name, k) => {
  const r = Math.floor(k / 5), c = k % 5;
  const w = AX_W + PW + PAD_R, h = PAD_T + PH + AX_H;
  const cv = document.createElement('canvas');
  cv.width = w; cv.height = h;
  cv.style.left = (COL_LEFT[c] - AX_W) + 'px';
  cv.style.top = (ROW_TOP[r] - PAD_T) + 'px';
  cv.style.width = w + 'px'; cv.style.height = h + 'px';
  document.body.appendChild(cv);
  const datasets = PDF[name].map((arr, s) => ({
    label: SERIES[s],
    data: arr.slice(0, X.length).map((v, i) => ({x: X[i], y: v === null ? null : Math.pow(10, v)})),
    borderColor: COLORS[s], backgroundColor: COLORS[s],
    borderWidth: 1, pointRadius: 0, tension: 0, fill: false, spanGaps: false,
    order: 4 - s
  }));
  new Chart(cv, {
    type: 'line',
    data: {datasets},
    plugins: [deco],
    options: {
      responsive: false, animation: false, events: [], devicePixelRatio: 1,
      layout: {padding: {left: 0, top: PAD_T, right: PAD_R, bottom: 0}},
      plugins: {legend: {display: false}, tooltip: {enabled: false}, deco: {name, k}},
      scales: {
        x: {
          type: 'linear', min: 0, max: 300,
          afterBuildTicks: s => { s.ticks = X_TICKS_LABEL.map(v => ({value: v})); },
          ticks: {maxRotation: 0, autoSkip: false, padding: 2, color: '#000', font: {size: 8.5},
                  callback: v => (r === 4 ? String(v) : '')},
          grid: {drawOnChartArea: false, drawTicks: true, tickLength: 4, tickColor: '#000', tickWidth: 0.8},
          border: {display: false},
          title: {display: r === 4, text: 'mm/day', color: '#000', font: {size: 8.5}, padding: {top: 0, bottom: 12}},
          afterFit: s => { s.height = AX_H; }
        },
        y: {
          type: 'logarithmic', min: 1e-9, max: 1,
          afterBuildTicks: s => { s.ticks = Y_TICKS.map(v => ({value: v})); },
          ticks: {padding: 1, color: '#000', font: {size: 9}, callback: v => (c === 0 ? expLabel(v) : '')},
          grid: {drawOnChartArea: true, drawTicks: true, tickLength: 4, tickColor: '#000', tickWidth: 0.8,
                 lineWidth: 0.8,
                 color: ctx => (ctx.tick && ctx.tick.value < 1e-8 ? 'rgba(0,0,0,0)' : '#b0b0b0')},
          border: {display: false, dash: [3, 2]},
          title: {display: c === 0, text: 'prob. density', color: '#000', font: {size: 9}, padding: {top: 9}},
          afterFit: s => { s.width = AX_W; }
        }
      }
    }
  });
});

// legend
const LEG_LINE = [4, 61, 129, 188, 266], LEG_TEXT = [29, 85, 154, 214, 292];
const SVGNS = 'http://www.w3.org/2000/svg';
const leg = document.getElementById('legend');
SERIES.forEach((s, i) => {
  const svg = document.createElementNS(SVGNS, 'svg');
  svg.setAttribute('width', '18'); svg.setAttribute('height', '4');
  svg.style.left = LEG_LINE[i] + 'px';
  const ln = document.createElementNS(SVGNS, 'line');
  ln.setAttribute('x1', '0'); ln.setAttribute('y1', '2');
  ln.setAttribute('x2', '18'); ln.setAttribute('y2', '2');
  ln.setAttribute('stroke', COLORS[i]); ln.setAttribute('stroke-width', '1.5');
  svg.appendChild(ln);
  leg.appendChild(svg);
  const tx = document.createElement('div');
  tx.className = 'tx';
  tx.style.left = LEG_TEXT[i] + 'px';
  tx.textContent = s;
  leg.appendChild(tx);
});
</script>
</body></html>
